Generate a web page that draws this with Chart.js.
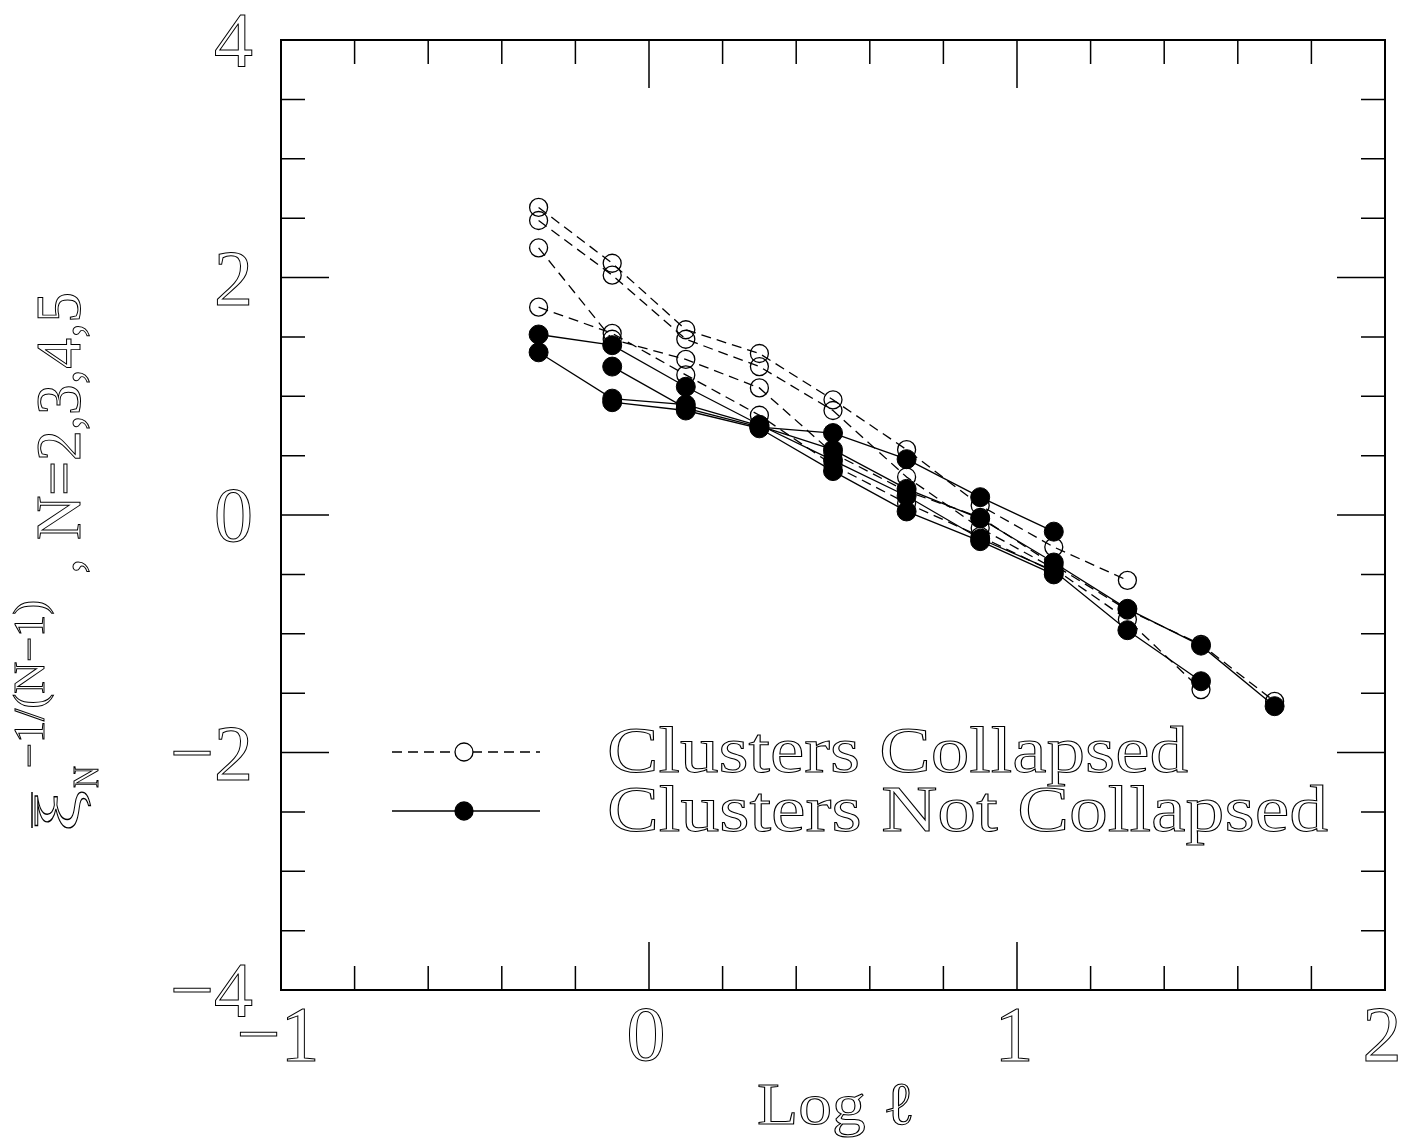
<!DOCTYPE html>
<html>
<head>
<meta charset="utf-8">
<script src="https://cdn.jsdelivr.net/npm/chart.js@4.4.1/dist/chart.umd.min.js"></script>
<style>
  html, body { margin: 0; padding: 0; background: #fff; }
</style>
</head>
<body>
<canvas id="chart" width="1424" height="1139"></canvas>
<script>
// log of the scale, one column of points per value
const logL = [-0.3, -0.1, 0.1, 0.3, 0.5, 0.7, 0.9, 1.1, 1.3, 1.5, 1.7];

// clusters collapsed (open circles, dashed)
const collapsedA = [2.59, 2.12, 1.56, 1.36, 0.97, 0.55, 0.08, -0.27, -0.55, null, null];
const collapsedB = [2.48, 2.02, 1.48, 1.25, 0.88, 0.32, -0.11, -0.45, -0.88, -1.47, null];
const collapsedC = [2.25, 1.48, 1.31, 1.07, 0.52, 0.20, -0.02, -0.42, -0.80, -1.09, -1.57];
const collapsedD = [1.75, 1.53, 1.18, 0.84, 0.42, 0.10, -0.18, -0.48, null, null, null];

// clusters not collapsed (filled circles, solid)
const notCollapsedA = [1.37, 0.98, 0.93, 0.75, 0.55, 0.22, -0.03, -0.40, -0.79, -1.10, -1.61];
const notCollapsedB = [1.52, 1.43, 1.08, 0.76, 0.46, 0.16, -0.20, -0.47, -0.97, -1.40, null];
const notCollapsedC = [null, 1.25, 0.90, 0.74, 0.69, 0.47, 0.15, -0.14, null, null, null];
const notCollapsedD = [null, 0.95, 0.88, 0.73, 0.37, 0.03, -0.22, -0.50, null, null, null];

const xTicks = [-1, 0, 1, 2];
const yTicks = [-4, -2, 0, 2, 4];
const legendLabels = ["Clusters Collapsed", "Clusters Not Collapsed"];

const SERIF = '"Liberation Serif", "DejaVu Serif", serif';

function points(ys) {
  return logL.map((x, i) => ({ x: x, y: ys[i] }));
}

function openSet(ys) {
  return {
    data: points(ys),
    borderColor: "#000",
    borderWidth: 1.3,
    borderDash: [10, 6],
    pointRadius: 9,
    pointBorderWidth: 1.3,
    pointBackgroundColor: "rgba(0,0,0,0)",
    pointBorderColor: "#000",
    order: 1,
  };
}

function filledSet(ys) {
  return {
    data: points(ys),
    borderColor: "#000",
    borderWidth: 1.3,
    pointRadius: 9.5,
    pointBorderWidth: 1,
    pointBackgroundColor: "#000",
    pointBorderColor: "#000",
    order: 0,
  };
}

function fmt(v) {
  return v < 0 ? "\u2212" + Math.abs(v) : String(v);
}

// outlined text, squeezed to a width when one is given
function ink(ctx, s, x, y, font, align, width) {
  ctx.save();
  ctx.font = font;
  ctx.textBaseline = "alphabetic";
  const w = ctx.measureText(s).width;
  const k = width ? width / w : 1;
  let x0 = x;
  if (align === "center") x0 = x - (w * k) / 2;
  if (align === "right") x0 = x - w * k;
  ctx.translate(x0, y);
  ctx.scale(k, 1);
  ctx.strokeStyle = "#000";
  ctx.lineWidth = 1;
  ctx.strokeText(s, 0, 0);
  ctx.restore();
  return w * k;
}

const frame = {
  id: "frame",
  beforeDatasetsDraw(chart) {
    const { ctx, chartArea: a, scales } = chart;
    ctx.save();
    ctx.strokeStyle = "#000";
    ctx.lineWidth = 2;
    ctx.strokeRect(a.left, a.top, a.right - a.left, a.bottom - a.top);
    ctx.lineWidth = 1.5;
    ctx.beginPath();
    for (let i = 0; i <= 15; i++) {
      const px = scales.x.getPixelForValue(-1 + i * 0.2);
      const len = i % 5 === 0 ? 48 : 24;
      ctx.moveTo(px, a.bottom); ctx.lineTo(px, a.bottom - len);
      ctx.moveTo(px, a.top); ctx.lineTo(px, a.top + len);
    }
    for (let i = 0; i <= 16; i++) {
      const py = scales.y.getPixelForValue(-4 + i * 0.5);
      const len = i % 4 === 0 ? 48 : 24;
      ctx.moveTo(a.left, py); ctx.lineTo(a.left + len, py);
      ctx.moveTo(a.right, py); ctx.lineTo(a.right - len, py);
    }
    ctx.stroke();
    ctx.restore();
  },
  afterDraw(chart) {
    const { ctx, chartArea: a, scales } = chart;
    const tickFont = "78px " + SERIF;

    yTicks.forEach((v) => {
      const py = scales.y.getPixelForValue(v);
      ink(ctx, fmt(v), 253, py + 26, tickFont, "right");
    });
    xTicks.forEach((v) => {
      const px = scales.x.getPixelForValue(v);
      ink(ctx, fmt(v), px - 3, 1060, tickFont, "center");
    });

    // x title
    ink(ctx, "Log \u2113", (a.left + a.right) / 2 + 3, 1124, "60px " + SERIF, "center", 158);

    // y title, rotated
    ctx.save();
    ctx.translate(80, 832);
    ctx.rotate(-Math.PI / 2);
    ink(ctx, "\u03be", 0, 0, "64px " + SERIF, "left", 42);
    ctx.strokeStyle = "#000";
    ctx.lineWidth = 1.5;
    ctx.beginPath();
    ctx.moveTo(4, -48); ctx.lineTo(40, -48);
    ctx.stroke();
    ink(ctx, "N", 44, 18, "36px " + SERIF, "left", 22);
    ink(ctx, "\u22121/(N\u22121)", 64, -36, "44px " + SERIF, "left", 168);
    ink(ctx, ",", 258, 0, "64px " + SERIF, "left");
    ink(ctx, "N=2,3,4,5", 292, 0, "64px " + SERIF, "left", 248);
    ctx.restore();

    // legend
    const sets = chart.data.datasets;
    const rows = [
      { y: 752, set: sets[0] },
      { y: 811, set: sets[4] },
    ];
    rows.forEach((r, i) => {
      ctx.save();
      ctx.strokeStyle = "#000";
      ctx.lineWidth = r.set.borderWidth;
      ctx.setLineDash(r.set.borderDash || []);
      ctx.beginPath();
      ctx.moveTo(392, r.y); ctx.lineTo(540, r.y);
      ctx.stroke();
      ctx.setLineDash([]);
      ctx.beginPath();
      ctx.arc(464, r.y, 9, 0, Math.PI * 2);
      ctx.fillStyle = r.set.pointBackgroundColor === "#000" ? "#000" : "#fff";
      ctx.fill();
      ctx.lineWidth = 1.3;
      ctx.stroke();
      ctx.restore();
      const w = i === 0 ? 581 : 721;
      ink(ctx, legendLabels[i], 607, r.y + 20, "66px " + SERIF, "left", w);
    });
  },
};

new Chart(document.getElementById("chart"), {
  type: "line",
  data: {
    datasets: [
      openSet(collapsedA),
      openSet(collapsedB),
      openSet(collapsedC),
      openSet(collapsedD),
      filledSet(notCollapsedA),
      filledSet(notCollapsedB),
      filledSet(notCollapsedC),
      filledSet(notCollapsedD),
    ],
  },
  options: {
    responsive: false,
    animation: false,
    layout: { padding: { left: 281, top: 40, right: 39, bottom: 149 } },
    elements: { line: { tension: 0 } },
    plugins: { legend: { display: false }, tooltip: { enabled: false } },
    scales: {
      x: { type: "linear", min: -1, max: 2, display: false },
      y: { type: "linear", min: -4, max: 4, display: false },
    },
  },
  plugins: [frame],
});
</script>
</body>
</html>
